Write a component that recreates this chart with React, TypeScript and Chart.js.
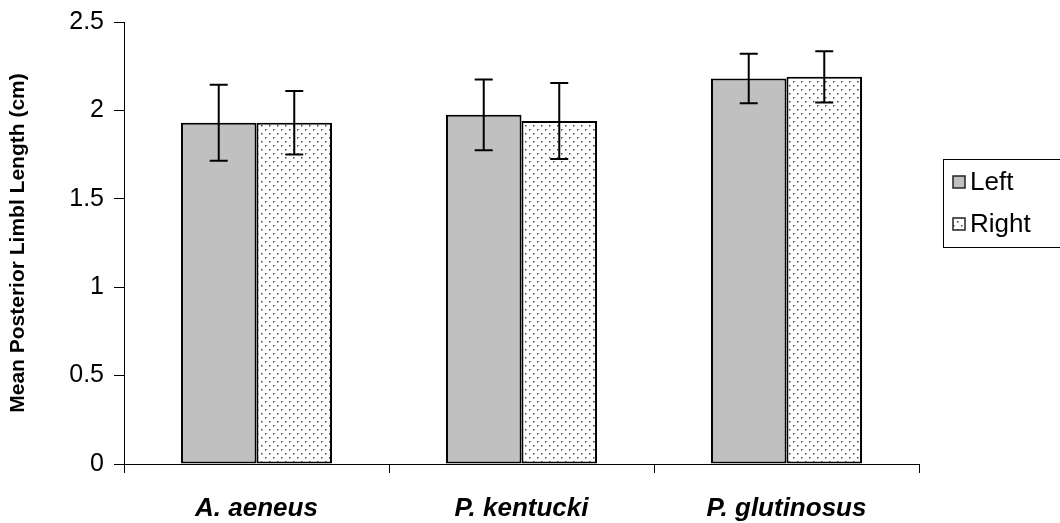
import React, { useEffect, useRef } from "react";
import { Chart, registerables } from "chart.js";

Chart.register(...registerables);

const categories = ["A. aeneus", "P. kentucki", "P. glutinosus"];
const leftValues = [1.93, 1.975, 2.18];
const leftErrors = [0.215, 0.2, 0.14];
const rightValues = [1.93, 1.94, 2.19];
const rightErrors = [0.18, 0.215, 0.145];
const seriesNames = ["Left", "Right"];
const yTickLabels = ["0", "0.5", "1", "1.5", "2", "2.5"];
const yTitle = "Mean Posterior Limbl Length (cm)";

const FONT = "'Liberation Sans', Arial, sans-serif";

function makeDotPattern(): CanvasPattern | string {
  const c = document.createElement("canvas");
  c.width = 8;
  c.height = 8;
  const g = c.getContext("2d");
  if (!g) return "#ffffff";
  g.fillStyle = "#ffffff";
  g.fillRect(0, 0, 8, 8);
  g.fillStyle = "#444444";
  g.fillRect(1, 1, 1.5, 1.5);
  g.fillRect(5, 5, 1.5, 1.5);
  const p = g.createPattern(c, "repeat");
  return p || "#ffffff";
}

export default function App() {
  const ref = useRef<HTMLCanvasElement | null>(null);

  useEffect(() => {
    if (!ref.current) return;
    const pattern = makeDotPattern();
    const errs = [leftErrors, rightErrors];

    const errorBars = {
      id: "errorBars",
      afterDatasetsDraw(chart: any) {
        const ctx = chart.ctx;
        const yScale = chart.scales.y;
        ctx.save();
        ctx.strokeStyle = "#000";
        ctx.lineWidth = 2;
        chart.data.datasets.forEach((ds: any, di: number) => {
          const meta = chart.getDatasetMeta(di);
          meta.data.forEach((bar: any, i: number) => {
            const v = ds.data[i];
            const e = errs[di][i];
            const yTop = yScale.getPixelForValue(v + e);
            const yBot = yScale.getPixelForValue(v - e);
            const x = bar.x;
            ctx.beginPath();
            ctx.moveTo(x, yTop);
            ctx.lineTo(x, yBot);
            ctx.moveTo(x - 9, yTop);
            ctx.lineTo(x + 9, yTop);
            ctx.moveTo(x - 9, yBot);
            ctx.lineTo(x + 9, yBot);
            ctx.stroke();
          });
        });
        ctx.restore();
      },
    };

    const legendBox = {
      id: "legendBox",
      afterDraw(chart: any) {
        const ctx = chart.ctx;
        ctx.save();
        ctx.strokeStyle = "#000";
        ctx.lineWidth = 1;
        ctx.strokeRect(943.5, 159.5, 140, 88);
        const fills = ["#c0c0c0", pattern];
        const ys = [182, 224];
        ctx.font = `26px ${FONT}`;
        ctx.textBaseline = "middle";
        ctx.textAlign = "left";
        seriesNames.forEach((name, i) => {
          ctx.fillStyle = fills[i] as any;
          ctx.fillRect(953, ys[i] - 6, 12, 12);
          ctx.lineWidth = 1.5;
          ctx.strokeStyle = "#222";
          ctx.strokeRect(953, ys[i] - 6, 12, 12);
          ctx.fillStyle = "#000";
          ctx.fillText(name, 970, ys[i] + 1);
        });
        ctx.restore();
      },
    };

    const chart = new Chart(ref.current, {
      type: "bar",
      data: {
        labels: categories,
        datasets: [
          {
            label: seriesNames[0],
            data: leftValues,
            backgroundColor: "#c0c0c0",
            borderColor: "#000",
            borderWidth: 2,
            borderSkipped: false,
          },
          {
            label: seriesNames[1],
            data: rightValues,
            backgroundColor: pattern as any,
            borderColor: "#000",
            borderWidth: 2,
            borderSkipped: false,
          },
        ],
      },
      options: {
        animation: false,
        responsive: false,
        maintainAspectRatio: false,
        layout: { padding: { left: 0, right: 141, top: 22, bottom: 0 } },
        datasets: { bar: { barPercentage: 1, categoryPercentage: 0.57 } },
        plugins: {
          legend: { display: false },
          tooltip: { enabled: false },
        },
        scales: {
          x: {
            offset: true,
            grid: {
              display: true,
              drawOnChartArea: false,
              drawTicks: true,
              tickLength: 9,
              color: "#000",
              offset: true,
            },
            border: { color: "#000", width: 1 },
            ticks: {
              color: "#000",
              padding: 20,
              font: { family: FONT, size: 26, weight: "bold", style: "italic" },
            },
            afterFit(scale: any) {
              scale.height = 59;
            },
          },
          y: {
            min: 0,
            max: 2.5,
            grid: {
              display: true,
              drawOnChartArea: false,
              drawTicks: true,
              tickLength: 10,
              color: "#000",
            },
            border: { color: "#000", width: 1 },
            ticks: {
              stepSize: 0.5,
              color: "#000",
              padding: 10,
              font: { family: FONT, size: 25, lineHeight: 0.9 },
              callback: (_v: any, i: number) => yTickLabels[i],
            },
            title: {
              display: true,
              text: yTitle,
              color: "#000",
              font: { family: FONT, size: 21, weight: "bold" },
              padding: { top: 6, bottom: 10 },
            },
            afterFit(scale: any) {
              scale.width = 124;
            },
          },
        },
      } as any,
      plugins: [errorBars, legendBox],
    });
    return () => chart.destroy();
  }, []);

  return (
    <div style={{ position: "absolute", left: 0, top: 0, width: 1060, height: 523, background: "#fff" }}>
      <canvas ref={ref} width={1060} height={523} style={{ display: "block" }} />
    </div>
  );
}
